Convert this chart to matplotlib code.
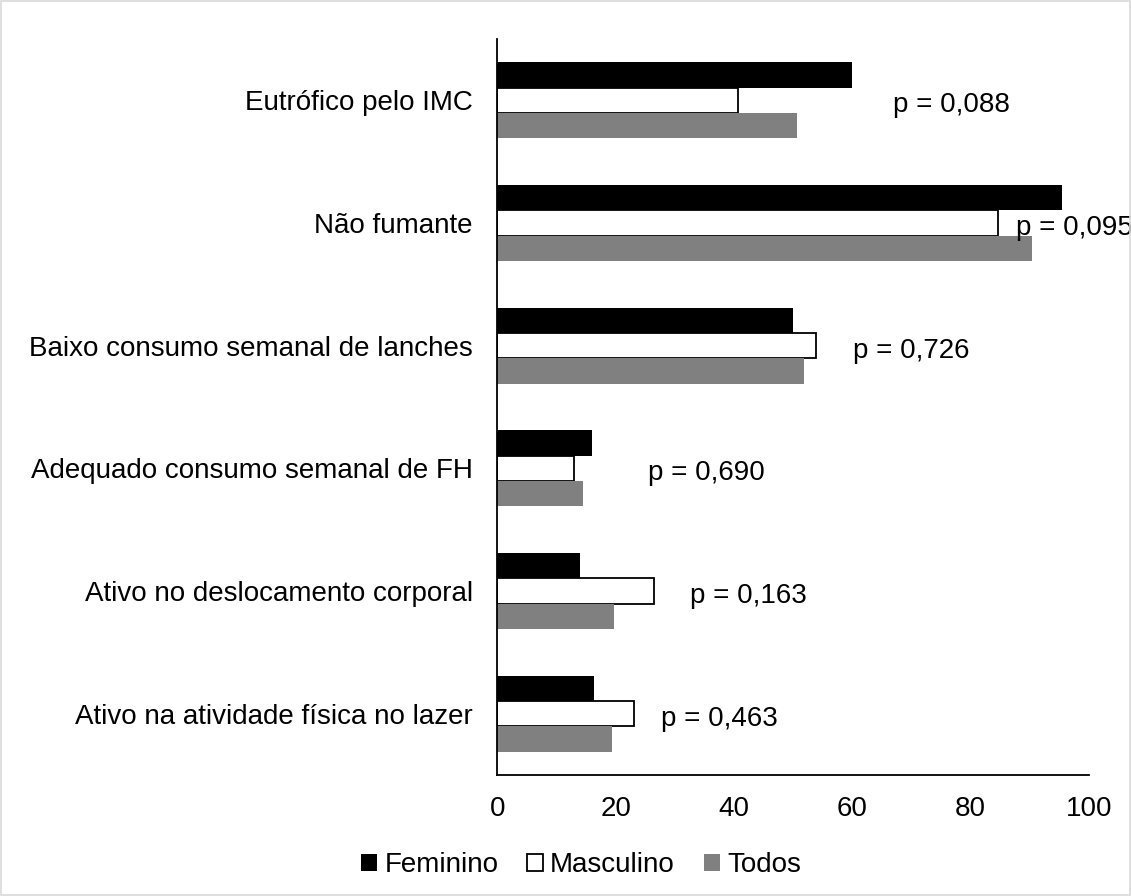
import matplotlib
matplotlib.use("Agg")
import matplotlib.pyplot as plt
import numpy as np
from matplotlib.patches import Rectangle

plt.rcParams['font.family'] = ['Liberation Sans', 'DejaVu Sans']

categories = [
    "Eutrófico pelo IMC",
    "Não fumante",
    "Baixo consumo semanal de lanches",
    "Adequado consumo semanal de FH",
    "Ativo no deslocamento corporal",
    "Ativo na atividade física no lazer",
]
feminino = [60.0, 95.5, 50.0, 16.0, 14.0, 16.3]
masculino = [40.6, 84.7, 53.8, 12.9, 26.4, 23.1]
todos = [50.7, 90.4, 51.8, 14.5, 19.8, 19.4]
p_labels = ["p = 0,088", "p = 0,095", "p = 0,726", "p = 0,690", "p = 0,163", "p = 0,463"]
x_ticks = [0, 20, 40, 60, 80, 100]

# layout: x position (data units) of each p-value label
p_label_x = [66.9, 87.6, 60.1, 25.4, 32.6, 27.6]

FS = 20
fig = plt.figure(figsize=(11.31, 8.96), dpi=100)
ax = fig.add_axes([497.3/1131, 1-775/896, (1089-497.3)/1131, (775-39)/896])

y = np.arange(len(categories))
h = 0.206
ax.barh(y - h, feminino, height=h, color="black", label="Feminino")
ax.barh(y, masculino, height=h, color="white", edgecolor="black", linewidth=1.3, label="Masculino")
ax.barh(y + h, todos, height=h, color="#808080", label="Todos")

for xi, yi, t in zip(p_label_x, y, p_labels):
    ax.text(xi, yi + 0.097, t, ha="left", va="baseline", fontsize=FS, color="black", clip_on=False)

ax.set_xlim(0, 100)
ax.set_ylim(len(categories) - 0.5, -0.5)
ax.set_xticks(x_ticks)
ax.set_xticklabels([str(v) for v in x_ticks], fontsize=FS)
ax.set_yticks(y)
ax.set_yticklabels(categories, fontsize=FS)
ax.tick_params(axis="both", length=0)
ax.tick_params(axis="y", pad=17.5)
ax.tick_params(axis="x", pad=15)
for s in ["top", "right"]:
    ax.spines[s].set_visible(False)
for s in ["left", "bottom"]:
    ax.spines[s].set_linewidth(1.3)
    ax.spines[s].set_color("black")

leg = fig.legend(loc="center", bbox_to_anchor=(581/1131, 1-865/896), ncol=3, frameon=False,
                 fontsize=FS, handlelength=0.58, handleheight=0.58, handletextpad=0.25,
                 columnspacing=1.04)

fig.patches.append(Rectangle((0.001, 0.001), 0.998, 0.998, transform=fig.transFigure,
                             fill=False, edgecolor="#d9d9d9", linewidth=1.2))

fig.savefig("out.png", dpi=100)
